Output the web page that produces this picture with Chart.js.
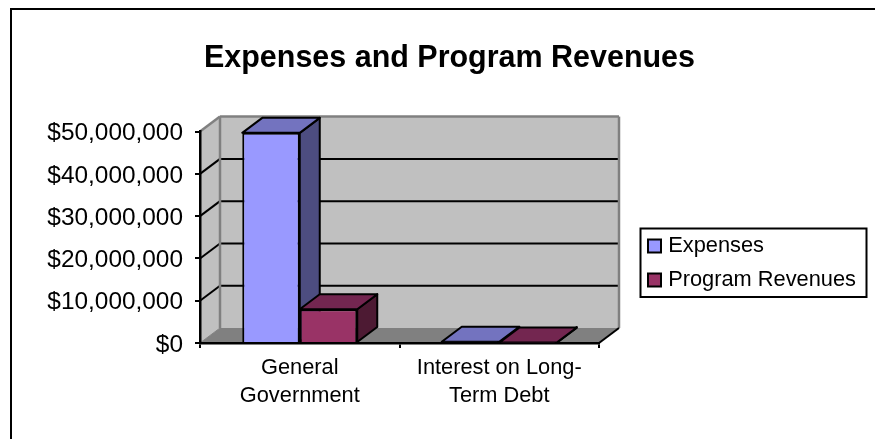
<!DOCTYPE html>
<html>
<head>
<meta charset="utf-8">
<script src="https://cdn.jsdelivr.net/npm/chart.js@4"></script>
<style>html,body{margin:0;padding:0;background:#fff}canvas{display:block}</style>
</head>
<body>
<canvas id="c" width="875" height="439"></canvas>
<script>
const categories = [["General","Government"],["Interest on Long-","Term Debt"]];
const expenses = [49700000, 300000];
const programRevenues = [8000000, 100000];
const yTicksMax = 50000000;
const yTicksStep = 10000000;
const chartTitle = "Expenses and Program Revenues";

const FONT = '"Liberation Sans", Arial, sans-serif';
const DX = 20, DY = -15;

function poly(ctx, pts, fill, stroke, lw) {
  ctx.beginPath();
  pts.forEach((p, i) => i ? ctx.lineTo(p[0], p[1]) : ctx.moveTo(p[0], p[1]));
  ctx.closePath();
  if (fill) { ctx.fillStyle = fill; ctx.fill(); }
  if (stroke) { ctx.strokeStyle = stroke; ctx.lineWidth = lw; ctx.lineJoin = 'round'; ctx.stroke(); }
}
function seg(ctx, x1, y1, x2, y2, color, lw) {
  ctx.beginPath(); ctx.moveTo(x1, y1); ctx.lineTo(x2, y2);
  ctx.strokeStyle = color; ctx.lineWidth = lw; ctx.stroke();
}

const shell3d = {
  id: 'shell3d',
  beforeLayout(chart) {
    const l = chart.legend;
    if (l && !l._patched) {
      l._patched = true;
      const f = l.fit;
      l.fit = function () { f.call(this); this.width = 226; };
    }
  },
  afterLayout(chart) {
    const l = chart.legend;
    l.left = 639.5; l.right = 866; l.top = 223; l.bottom = 331; l.width = 226.5; l.height = 108;
    const t = chart.titleBlock;
    t.left = 204; t.right = 695; t.width = 491; t.top = 40; t.bottom = 77;
  },
  beforeDraw(chart) {
    const ctx = chart.ctx, x = chart.scales.x, y = chart.scales.y;
    const L = x.left, R = x.right, T = y.top, B = y.bottom;
    ctx.save();
    seg(ctx, 11, 9, 11, 439, '#000', 2);
    seg(ctx, 10, 9, 875, 9, '#000', 2);
    poly(ctx, [[L + DX, T + DY], [R + DX, T + DY], [R + DX, B + DY], [L + DX, B + DY]], '#C0C0C0');
    poly(ctx, [[L, T], [L + DX, T + DY], [L + DX, B + DY], [L, B]], '#C0C0C0');
    poly(ctx, [[L, B], [L + DX, B + DY], [R + DX, B + DY], [R, B]], '#808080');
    y.ticks.forEach(t => {
      if (t.value <= 0 || t.value >= yTicksMax) return;
      const p = y.getPixelForValue(t.value);
      seg(ctx, L, p, L + DX, p + DY, '#000', 2);
      seg(ctx, L + DX, p + DY, R + DX, p + DY, '#000', 2);
    });
    seg(ctx, L, T, L + DX, T + DY, '#808080', 2.5);
    seg(ctx, L + DX, T + DY, R + DX, T + DY, '#808080', 2.5);
    seg(ctx, L + DX, T + DY, L + DX, B + DY, '#808080', 2.5);
    seg(ctx, R + DX, T + DY, R + DX, B + DY, '#808080', 2.5);
    seg(ctx, L, B, L + DX, B + DY, '#808080', 1);
    seg(ctx, R, B, R + DX, B + DY, '#000', 2);
    ctx.restore();
  },
  beforeDatasetsDraw(chart) {
    const ctx = chart.ctx;
    ctx.save();
    const tops = ['#7373BF', '#732650'], sides = ['#4D4D80', '#4D1A33'];
    categories.forEach((_, j) => {
      chart.data.datasets.forEach((d, i) => {
        const b = chart.getDatasetMeta(i).data[j];
        const l = b.x - b.width / 2, r = b.x + b.width / 2, top = b.y, base = b.base;
        poly(ctx, [[r, top], [r + DX, top + DY], [r + DX, base + DY], [r, base]], sides[i], '#000', 2);
        poly(ctx, [[l, top], [l + DX, top + DY], [r + DX, top + DY], [r, top]], tops[i], '#000', 2);
      });
    });
    ctx.restore();
  },
  afterDraw(chart) {
    const ctx = chart.ctx;
    ctx.save();
    ctx.strokeStyle = '#000'; ctx.lineWidth = 2;
    ctx.strokeRect(640.5, 228.5, 226, 68.5);
    ctx.restore();
  }
};

new Chart(document.getElementById('c'), {
  type: 'bar',
  plugins: [shell3d],
  data: {
    labels: categories,
    datasets: [
      { label: 'Expenses', data: expenses, backgroundColor: '#9999FF', borderColor: '#000', borderWidth: 2,
        categoryPercentage: 0.5764, barPercentage: 1 },
      { label: 'Program Revenues', data: programRevenues, backgroundColor: '#993366', borderColor: '#000', borderWidth: 2,
        categoryPercentage: 0.5764, barPercentage: 1 }
    ]
  },
  options: {
    responsive: false,
    animation: false,
    devicePixelRatio: 1,
    layout: { padding: { left: 0, right: 50, top: 95, bottom: 0 } },
    plugins: {
      tooltip: { enabled: false },
      title: {
        display: true, text: chartTitle, color: '#000', padding: 0,
        font: { family: FONT, size: 30.5, weight: 'bold', lineHeight: 1.2 }
      },
      legend: {
        display: true, position: 'right', align: 'start',
        labels: {
          color: '#000', usePointStyle: true, pointStyle: 'rect',
          boxWidth: 5.6, boxHeight: 13, padding: 12.2,
          font: { family: FONT, size: 21.8, lineHeight: 1.12 }
        }
      }
    },
    scales: {
      x: {
        afterFit(s) { s.height = 96; },
        border: { display: true, color: '#000', width: 2.5 },
        grid: { display: true, drawOnChartArea: false, drawTicks: true, tickLength: 5, color: '#000', lineWidth: 2 },
        ticks: { color: '#000', autoSkip: false, maxRotation: 0, padding: 6,
          font: { family: FONT, size: 21.8, lineHeight: 1.284 } }
      },
      y: {
        min: 0, max: yTicksMax,
        afterFit(s) { s.width = 200; },
        border: { display: true, color: '#000', width: 2.5 },
        grid: { display: true, drawOnChartArea: false, drawTicks: true, tickLength: 5, color: '#000', lineWidth: 2 },
        ticks: { stepSize: yTicksStep, color: '#000', autoSkip: false, padding: 12, labelOffset: 2,
          callback: v => '$' + Number(v).toLocaleString('en-US'),
          font: { family: FONT, size: 24.4 } }
      }
    }
  }
});
</script>
</body>
</html>
